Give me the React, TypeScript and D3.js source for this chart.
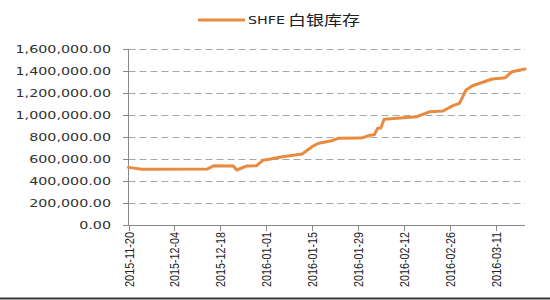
import React from "react";
import * as d3 from "d3";

const dates: string[] = [
  "2015-11-20", "2015-11-24", "2015-12-14", "2015-12-16", "2015-12-22", "2015-12-23",
  "2015-12-26", "2015-12-29", "2015-12-31", "2016-01-02", "2016-01-06", "2016-01-12",
  "2016-01-15", "2016-01-17", "2016-01-21", "2016-01-23", "2016-01-30", "2016-02-02",
  "2016-02-03", "2016-02-04", "2016-02-05", "2016-02-06", "2016-02-16", "2016-02-20",
  "2016-02-24", "2016-02-27", "2016-02-29", "2016-03-02", "2016-03-04", "2016-03-10",
  "2016-03-14", "2016-03-16", "2016-03-20",
];
const stock: number[] = [
  524000, 506000, 508000, 539000, 536000, 500000,
  536000, 538000, 588000, 597000, 621000, 645000,
  712000, 743000, 766000, 788000, 790000, 818000,
  820000, 879000, 882000, 961000, 985000, 1030000,
  1036000, 1085000, 1106000, 1227000, 1266000, 1327000,
  1339000, 1394000, 1418000,
];
const xTicks: string[] = [
  "2015-11-20", "2015-12-04", "2015-12-18", "2016-01-01", "2016-01-15",
  "2016-01-29", "2016-02-12", "2016-02-26", "2016-03-11",
];
const yTicks: number[] = [0, 200000, 400000, 600000, 800000, 1000000, 1200000, 1400000, 1600000];
const seriesName = "SHFE";
const seriesNameCN = "白银库存";

const parse = d3.utcParse("%Y-%m-%d");
const COLOR = "#E98B3F";

export default function App() {
  const x = d3
    .scaleUtc()
    .domain([parse("2015-11-20")!, parse("2016-03-20")!])
    .range([128.5, 525]);
  const y = d3.scaleLinear().domain([0, 1600000]).range([225, 49]);
  const pts = dates.map((d, i) => [x(parse(d)!), y(stock[i])] as [number, number]);
  const line = d3.line().curve(d3.curveLinear)(pts) || "";
  const fmt = d3.format(",.2f");

  return (
    <svg
      width={550}
      height={300}
      style={{ position: "absolute", left: 0, top: 0, background: "#fff" }}
    >
      <rect x={0} y={0} width={550} height={300} fill="#fff" />
      {/* gridlines */}
      {yTicks.map((t) =>
        t === 0 ? null : (
          <line
            key={"g" + t}
            x1={128.5}
            x2={525}
            y1={Math.round(y(t)) + 0.5}
            y2={Math.round(y(t)) + 0.5}
            stroke="#A6A6A6"
            strokeWidth={1}
            strokeDasharray="7,4"
          />
        )
      )}
      {/* y axis */}
      <line x1={128.5} x2={128.5} y1={49} y2={225.5} stroke="#888" strokeWidth={1} />
      {yTicks.map((t) => (
        <line
          key={"yt" + t}
          x1={123}
          x2={128.5}
          y1={Math.round(y(t)) + 0.5}
          y2={Math.round(y(t)) + 0.5}
          stroke="#888"
        />
      ))}
      {yTicks.map((t) => (
        <text
          key={"yl" + t}
          transform={`translate(111, ${y(t) + 4}) scale(1.3,1)`}
          textAnchor="end"
          fontFamily="DejaVu Sans"
          fontSize={11}
          fill="#333"
        >
          {fmt(t)}
        </text>
      ))}
      {/* x axis */}
      <line x1={128.5} x2={525} y1={225.5} y2={225.5} stroke="#888" strokeWidth={1} />
      {xTicks.map((d) => {
        const xx = Math.round(x(parse(d)!)) + 0.5;
        return (
          <g key={"xt" + d}>
            <line x1={xx} x2={xx} y1={225.5} y2={231} stroke="#888" />
            <text
              transform={`translate(${xx + 4.5}, 232) rotate(-90)`}
              textAnchor="end"
              fontFamily="Liberation Sans"
              fontSize={12.5}
              fill="#222"
              textLength={55}
              lengthAdjust="spacingAndGlyphs"
            >
              {d}
            </text>
          </g>
        );
      })}
      {/* series */}
      <path
        d={line}
        fill="none"
        stroke={COLOR}
        strokeWidth={3}
        strokeLinejoin="round"
        strokeLinecap="round"
      />
      {/* legend */}
      <line x1={198} x2={245} y1={20} y2={20} stroke={COLOR} strokeWidth={3} />
      <text
        x={248}
        y={24}
        fontFamily="DejaVu Sans"
        fontSize={10}
        fill="#222"
        textLength={37}
        lengthAdjust="spacingAndGlyphs"
      >
        {seriesName}
      </text>
      <text
        x={288}
        y={25}
        fontFamily="Noto Sans CJK SC"
        fontSize={14}
        fill="#222"
        textLength={72}
        lengthAdjust="spacingAndGlyphs"
      >
        {seriesNameCN}
      </text>
      {/* bottom border */}
      <line x1={0} x2={550} y1={298.5} y2={298.5} stroke="#3a3a3a" strokeWidth={2} />
    </svg>
  );
}
